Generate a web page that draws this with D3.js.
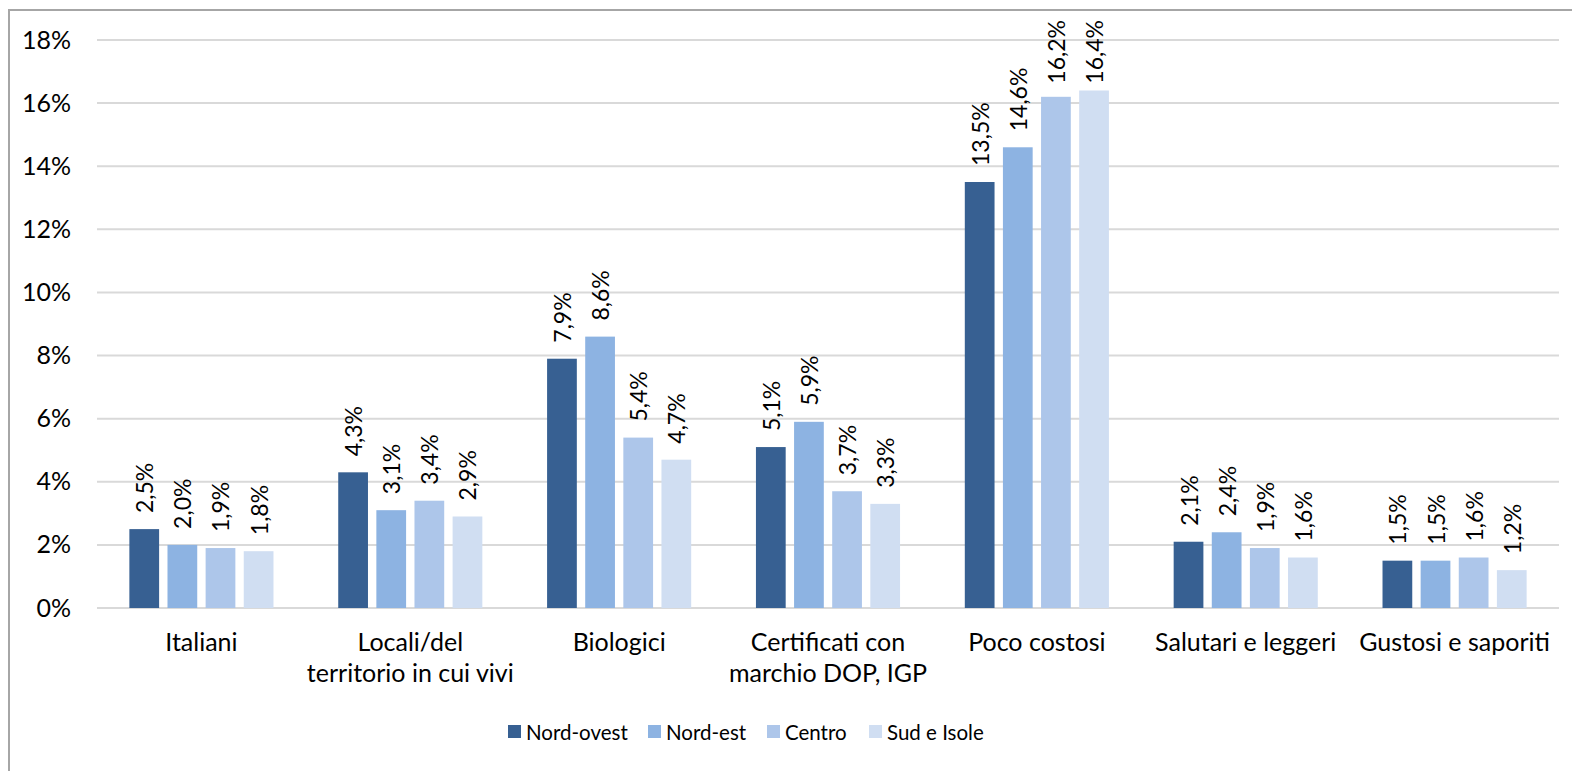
<!DOCTYPE html>
<html>
<head>
<meta charset="utf-8">
<script src="https://cdn.jsdelivr.net/npm/d3@7"></script>
<style>
  body { margin: 0; background: #fff; }
  svg { display: block; font-family: Lato, "Open Sans", sans-serif; }
</style>
</head>
<body>
<div id="chart"></div>
<script>
const categories = [
    ['Italiani'],
    ['Locali/del', 'territorio in cui vivi'],
    ['Biologici'],
    ['Certificati con', 'marchio DOP, IGP'],
    ['Poco costosi'],
    ['Salutari e leggeri'],
    ['Gustosi e saporiti']
];
const seriesNames = ['Nord-ovest', 'Nord-est', 'Centro', 'Sud e Isole'];
const nordOvest = [2.5, 4.3, 7.9, 5.1, 13.5, 2.1, 1.5];
const nordEst = [2.0, 3.1, 8.6, 5.9, 14.6, 2.4, 1.5];
const centro = [1.9, 3.4, 5.4, 3.7, 16.2, 1.9, 1.6];
const sudIsole = [1.8, 2.9, 4.7, 3.3, 16.4, 1.6, 1.2];
const yTicks = [0, 2, 4, 6, 8, 10, 12, 14, 16, 18];

const colors = ['#376092', '#8db3e2', '#adc6ea', '#d0def2'];
const seriesValues = [nordOvest, nordEst, centro, sudIsole];

const width = 1572, height = 771;
const it = d3.formatLocale({ decimal: ',', thousands: '.', grouping: [3], currency: ['€', ''] });
const fmt = it.format('.1f');

const svg = d3.select('#chart')
    .append('svg')
    .attr('width', width)
    .attr('height', height);

// outer frame (Excel chart area border)
svg.append('rect')
    .attr('x', 9).attr('y', 10)
    .attr('width', width + 20).attr('height', height + 20)
    .attr('fill', 'none')
    .attr('stroke', '#a6a6a6')
    .attr('stroke-width', 2);

const x0 = d3.scaleBand()
    .domain(d3.range(categories.length))
    .range([97, 1559])
    .paddingInner(0.31)
    .paddingOuter(0.155);

const x1 = d3.scaleBand()
    .domain(d3.range(seriesNames.length))
    .range([0, x0.bandwidth()])
    .paddingInner(0.22);

const y = d3.scaleLinear()
    .domain([0, 18])
    .range([608, 40]);

// gridlines
svg.append('g')
    .selectAll('line')
    .data(yTicks)
    .join('line')
    .attr('x1', 97).attr('x2', 1559)
    .attr('y1', d => y(d)).attr('y2', d => y(d))
    .attr('stroke', '#d9d9d9')
    .attr('stroke-width', 2);

// y axis labels
const yAxis = svg.append('g')
    .attr('transform', 'translate(82,0)')
    .call(d3.axisLeft(y).tickValues(yTicks).tickSize(0).tickPadding(11).tickFormat(d => d + '%'));
yAxis.select('.domain').remove();
yAxis.selectAll('text')
    .attr('font-family', 'Lato, "Open Sans", sans-serif')
    .attr('font-size', 25)
    .attr('fill', '#000');

// bars
const groups = svg.append('g')
    .selectAll('g')
    .data(categories)
    .join('g')
    .attr('transform', (d, i) => `translate(${x0(i)},0)`);

groups.each(function(cat, ci) {
    const g = d3.select(this);
    const rows = seriesValues.map((vals, si) => ({ si, v: vals[ci] }));

    g.selectAll('rect')
        .data(rows)
        .join('rect')
        .attr('x', d => x1(d.si))
        .attr('y', d => y(d.v))
        .attr('width', x1.bandwidth())
        .attr('height', d => y(0) - y(d.v))
        .attr('fill', d => colors[d.si]);

    // value labels, pushed down when they would run off the top (as Excel does)
    g.selectAll('text.lbl')
        .data(rows)
        .join('text')
        .attr('class', 'lbl')
        .attr('dominant-baseline', 'central')
        .attr('font-size', 23)
        .attr('fill', '#000')
        .text(d => fmt(d.v) + '%')
        .attr('transform', function(d) {
            const len = this.getComputedTextLength();
            const start = Math.max(y(d.v) - 16, 20 + len);
            return `translate(${x1(d.si) + x1.bandwidth() / 2},${start}) rotate(-90)`;
        });
});

// category labels
svg.append('g')
    .selectAll('text')
    .data(categories)
    .join('text')
    .attr('x', (d, i) => x0(i) + x0.bandwidth() / 2)
    .attr('y', 651)
    .attr('text-anchor', 'middle')
    .attr('font-size', 25)
    .attr('fill', '#000')
    .selectAll('tspan')
    .data(d => d)
    .join('tspan')
    .attr('x', function() { return this.parentNode.getAttribute('x'); })
    .attr('dy', (d, i) => i === 0 ? 0 : 31)
    .text(d => d);

// legend
const legendX = [508, 648, 767, 869];
const legend = svg.append('g')
    .selectAll('g')
    .data(seriesNames)
    .join('g')
    .attr('transform', (d, i) => `translate(${legendX[i]},732)`);

legend.append('rect')
    .attr('x', 0).attr('y', -7)
    .attr('width', 13).attr('height', 13)
    .attr('fill', (d, i) => colors[i]);

legend.append('text')
    .attr('x', 18)
    .attr('y', 0)
    .attr('dominant-baseline', 'central')
    .attr('font-size', 20.5)
    .attr('fill', '#000')
    .text(d => d);
</script>
</body>
</html>
